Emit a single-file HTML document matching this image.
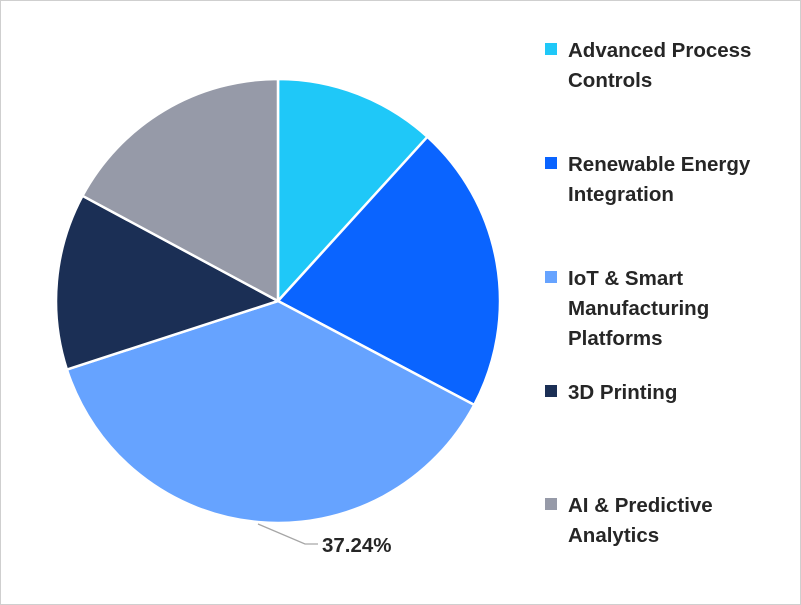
<!DOCTYPE html>
<html><head><meta charset="utf-8"><style>
body{margin:0;background:#fff}
svg{display:block}
text{font-family:"Liberation Sans",Arial,sans-serif;font-weight:bold;font-size:20.5px;fill:#262626}
</style></head><body>
<svg width="801" height="605" viewBox="0 0 801 605">
<rect x="0.5" y="0.5" width="800" height="604" fill="#fff" stroke="#cfcfcf"/>
<g stroke="#fff" stroke-width="2.5" stroke-linejoin="round">
<path d="M278,301 L278,79 A222,222 0 0 1 427.4,136.8 Z" fill="#1FC8F8"/>
<path d="M278,301 L427.4,136.8 A222,222 0 0 1 474.2,404.9 Z" fill="#0A64FF"/>
<path d="M278,301 L474.2,404.9 A222,222 0 0 1 66.9,369.6 Z" fill="#66A3FF"/>
<path d="M278,301 L66.9,369.6 A222,222 0 0 1 82.5,195.8 Z" fill="#1B2F55"/>
<path d="M278,301 L82.5,195.8 A222,222 0 0 1 278,79 Z" fill="#969AA8"/>
</g>
<polyline points="258,524 305,544 318,544" fill="none" stroke="#a6a6a6" stroke-width="1.3"/>
<text x="322" y="552">37.24%</text>
<rect x="545" y="43" width="12" height="12" fill="#1FC8F8"/>
<text x="568" y="57">Advanced Process</text><text x="568" y="87">Controls</text>
<rect x="545" y="157" width="12" height="12" fill="#0A64FF"/>
<text x="568" y="171">Renewable Energy</text><text x="568" y="201">Integration</text>
<rect x="545" y="271" width="12" height="12" fill="#66A3FF"/>
<text x="568" y="285">IoT &amp; Smart</text><text x="568" y="315">Manufacturing</text><text x="568" y="345">Platforms</text>
<rect x="545" y="385" width="12" height="12" fill="#1B2F55"/>
<text x="568" y="399">3D Printing</text>
<rect x="545" y="498" width="12" height="12" fill="#969AA8"/>
<text x="568" y="512">AI &amp; Predictive</text><text x="568" y="542">Analytics</text>
</svg>
</body></html>
